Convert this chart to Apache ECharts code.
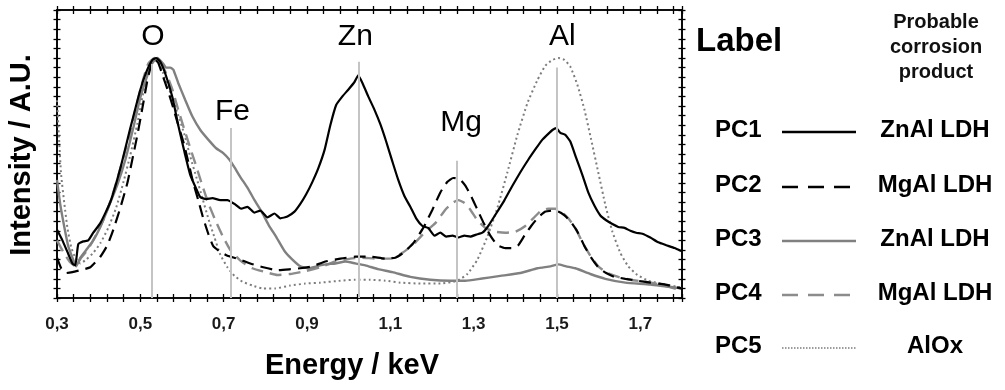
<!DOCTYPE html>
<html>
<head>
<meta charset="utf-8">
<script src="https://cdn.jsdelivr.net/npm/echarts@6/dist/echarts.min.js"></script>
<style>
  html, body { margin: 0; padding: 0; background: #fff; }
  #chart { width: 1005px; height: 390px; }
</style>
</head>
<body>
<div id="chart"></div>
<script>
// EDS spectra of principal components, [energy keV, intensity a.u.]
const pc1 = [[0.300,7.1],[0.313,6.0],[0.325,4.8],[0.337,3.6],[0.344,3.4],[0.351,5.6],[0.363,5.9],[0.375,6.0],[0.387,6.8],[0.404,7.8],[0.428,10.0],[0.452,13.5],[0.476,17.7],[0.500,21.7],[0.514,23.5],[0.529,24.8],[0.538,25.0],[0.548,24.6],[0.562,23.1],[0.577,20.9],[0.591,18.0],[0.606,15.2],[0.620,12.8],[0.635,11.3],[0.644,10.5],[0.658,10.3],[0.673,10.4],[0.692,10.2],[0.709,10.2],[0.726,9.8],[0.742,9.3],[0.757,9.5],[0.774,8.9],[0.788,9.1],[0.805,8.4],[0.822,8.8],[0.836,8.3],[0.853,8.5],[0.870,9.0],[0.884,9.8],[0.898,10.8],[0.913,12.1],[0.927,13.5],[0.942,15.4],[0.956,18.0],[0.970,20.1],[0.985,21.0],[0.999,21.7],[1.014,22.5],[1.023,23.2],[1.033,22.4],[1.047,21.0],[1.062,19.6],[1.076,18.1],[1.090,16.3],[1.105,14.2],[1.119,12.3],[1.134,10.6],[1.148,9.5],[1.162,8.3],[1.177,7.5],[1.191,7.3],[1.206,6.5],[1.220,6.8],[1.234,6.4],[1.249,6.5],[1.263,6.3],[1.278,6.5],[1.292,6.4],[1.306,6.6],[1.321,6.8],[1.335,7.5],[1.354,8.8],[1.374,10.2],[1.393,11.7],[1.412,13.1],[1.431,14.4],[1.450,15.6],[1.465,16.5],[1.479,17.1],[1.489,17.5],[1.498,17.7],[1.508,17.2],[1.520,17.0],[1.532,16.3],[1.546,14.6],[1.561,12.8],[1.575,11.0],[1.590,9.6],[1.604,8.6],[1.618,8.1],[1.633,7.7],[1.647,7.4],[1.662,7.3],[1.676,7.0],[1.690,6.8],[1.705,6.7],[1.724,6.3],[1.743,5.8],[1.762,5.5],[1.782,5.2],[1.798,4.9]];

const pc2 = [[0.300,4.2],[0.310,3.1],[0.322,2.6],[0.337,2.7],[0.356,2.9],[0.380,3.2],[0.404,4.3],[0.421,5.5],[0.435,7.1],[0.452,9.4],[0.469,12.0],[0.483,14.9],[0.493,17.0],[0.505,19.8],[0.517,22.7],[0.527,24.4],[0.534,24.9],[0.543,24.5],[0.555,23.0],[0.567,21.5],[0.579,19.8],[0.591,18.0],[0.603,16.3],[0.615,14.2],[0.627,12.0],[0.639,10.2],[0.651,8.3],[0.663,6.7],[0.675,5.4],[0.692,4.8],[0.709,4.4],[0.733,4.1],[0.764,3.6],[0.795,3.2],[0.829,2.9],[0.860,3.0],[0.884,3.1],[0.913,3.3],[0.944,3.8],[0.980,4.1],[1.016,4.3],[1.052,4.3],[1.088,4.1],[1.112,4.2],[1.131,4.7],[1.155,5.7],[1.179,7.3],[1.201,9.2],[1.220,11.0],[1.237,12.1],[1.251,12.5],[1.266,12.4],[1.280,11.7],[1.294,10.6],[1.309,9.2],[1.323,7.9],[1.340,6.5],[1.357,5.5],[1.376,5.2],[1.393,5.2],[1.407,5.5],[1.422,6.5],[1.438,7.5],[1.455,8.4],[1.472,9.0],[1.489,9.1],[1.503,9.0],[1.518,8.6],[1.532,8.0],[1.549,6.9],[1.566,5.4],[1.582,4.2],[1.599,3.2],[1.618,2.6],[1.638,2.2],[1.664,2.0],[1.693,1.8],[1.724,1.6],[1.760,1.4],[1.798,1.0]];

const pc3 = [[0.300,12.3],[0.308,9.7],[0.318,7.3],[0.327,5.4],[0.337,4.2],[0.346,3.3],[0.356,4.2],[0.370,5.0],[0.387,6.0],[0.404,7.4],[0.423,9.4],[0.445,11.8],[0.464,14.4],[0.483,17.7],[0.500,20.9],[0.517,23.2],[0.529,24.5],[0.541,25.0],[0.553,24.5],[0.562,24.0],[0.572,24.0],[0.579,23.8],[0.591,22.4],[0.608,20.6],[0.625,18.9],[0.644,17.5],[0.663,16.5],[0.682,15.6],[0.699,15.1],[0.714,14.4],[0.726,13.6],[0.740,12.6],[0.757,11.5],[0.774,10.2],[0.791,9.0],[0.808,7.6],[0.827,6.3],[0.846,4.9],[0.865,4.0],[0.884,3.3],[0.904,3.1],[0.923,3.3],[0.944,3.5],[0.968,3.6],[0.992,3.8],[1.016,3.6],[1.040,3.4],[1.071,3.0],[1.105,2.7],[1.148,2.2],[1.196,1.9],[1.244,1.8],[1.280,1.8],[1.316,2.0],[1.364,2.3],[1.412,2.6],[1.453,3.1],[1.484,3.3],[1.503,3.5],[1.522,3.3],[1.544,3.1],[1.580,2.5],[1.616,2.0],[1.664,1.6],[1.724,1.4],[1.798,1.0]];

const pc4 = [[0.300,6.0],[0.315,4.8],[0.330,3.8],[0.344,3.3],[0.358,4.2],[0.375,5.1],[0.394,6.6],[0.414,8.4],[0.433,10.7],[0.452,13.5],[0.471,16.5],[0.488,19.6],[0.505,22.5],[0.519,24.4],[0.534,25.0],[0.548,24.6],[0.562,23.4],[0.577,21.7],[0.591,19.6],[0.606,17.5],[0.620,15.6],[0.635,13.6],[0.649,11.7],[0.663,9.9],[0.680,8.1],[0.697,6.5],[0.716,5.0],[0.740,3.9],[0.769,3.1],[0.800,2.7],[0.829,2.4],[0.860,2.5],[0.896,2.8],[0.932,3.2],[0.968,3.8],[1.004,4.1],[1.033,4.2],[1.064,4.1],[1.100,4.1],[1.129,4.7],[1.158,5.7],[1.184,6.9],[1.208,7.8],[1.232,9.2],[1.249,9.9],[1.263,10.2],[1.278,9.9],[1.292,9.2],[1.309,8.1],[1.328,7.3],[1.352,6.9],[1.376,6.8],[1.400,6.9],[1.424,7.5],[1.443,8.3],[1.462,9.1],[1.479,9.3],[1.496,9.3],[1.513,8.9],[1.527,8.3],[1.544,7.3],[1.561,5.8],[1.580,4.4],[1.599,3.3],[1.621,2.6],[1.647,2.2],[1.676,1.9],[1.712,1.7],[1.748,1.4],[1.798,0.8]];

const pc5 = [[0.300,20.6],[0.305,16.5],[0.310,12.8],[0.318,9.7],[0.325,7.3],[0.334,5.3],[0.344,4.2],[0.356,3.6],[0.370,4.0],[0.387,4.7],[0.404,5.7],[0.423,7.3],[0.442,9.4],[0.459,12.0],[0.476,14.9],[0.493,18.2],[0.507,21.4],[0.519,23.8],[0.531,24.9],[0.543,24.6],[0.555,23.4],[0.572,21.4],[0.589,19.3],[0.606,17.0],[0.620,14.7],[0.635,12.5],[0.649,10.4],[0.663,8.3],[0.678,6.3],[0.692,4.5],[0.709,3.2],[0.726,2.3],[0.745,1.7],[0.769,1.3],[0.793,1.0],[0.824,1.0],[0.860,1.3],[0.896,1.5],[0.932,1.6],[0.980,1.8],[1.016,1.9],[1.052,1.9],[1.088,1.8],[1.124,1.6],[1.172,1.5],[1.220,1.5],[1.261,1.8],[1.285,2.5],[1.309,4.0],[1.333,6.4],[1.357,9.4],[1.381,13.1],[1.405,17.0],[1.429,20.3],[1.453,22.7],[1.472,24.2],[1.489,24.8],[1.503,25.0],[1.518,24.8],[1.532,24.1],[1.549,22.2],[1.566,19.6],[1.582,16.5],[1.599,13.1],[1.616,9.7],[1.633,6.9],[1.652,4.7],[1.671,3.3],[1.693,2.4],[1.719,1.8],[1.748,1.5],[1.798,1.1]];

// Characteristic X-ray lines: symbol, energy (keV), top of the marker line, label height
const elementNames = ['O', 'Fe', 'Zn', 'Mg', 'Al'];
const elementEnergies = [0.528, 0.716, 1.023, 1.260, 1.500];
const elementLineTops = [24.4, 17.7, 24.6, 14.3, 24.0];
const elementLabelPos = [[0.530, 27.2], [0.721, 19.4], [1.016, 27.2], [1.270, 18.3], [1.513, 27.2]];

// Legend rows
const componentNames = ['PC1', 'PC2', 'PC3', 'PC4', 'PC5'];
const productNames = ['ZnAl LDH', 'MgAl LDH', 'ZnAl LDH', 'MgAl LDH', 'AlOx'];

const xTickLabels = ['0,3', '0,5', '0,7', '0,9', '1,1', '1,3', '1,5', '1,7'];

const lineStyles = [
  { color: '#000000', width: 2.2, type: 'solid' },
  { color: '#000000', width: 2.2, type: [12, 7] },
  { color: '#808080', width: 2.4, type: 'solid' },
  { color: '#8c8c8c', width: 2.4, type: [12, 7] },
  { color: '#7c7c7c', width: 2, type: [2, 3] }
];
const seriesData = [pc1, pc2, pc3, pc4, pc5];

const FONT = 'Liberation Sans, Arial, sans-serif';
const X_MIN = 0.3, X_MAX = 1.8, Y_MIN = 0, Y_MAX = 30;

const chart = echarts.init(document.getElementById('chart'), null, { renderer: 'canvas' });

function xAxisDef(position, inside, withLabels) {
  return {
    type: 'value', position: position, min: X_MIN, max: X_MAX, interval: 0.04,
    axisLine: { show: true, onZero: false, lineStyle: { color: '#000', width: 1.6 } },
    axisTick: { show: true, inside: inside, length: 4, lineStyle: { color: '#000', width: 1.3 } },
    splitLine: { show: false },
    axisLabel: withLabels ? {
      show: true, margin: 18, color: '#1a1a1a', fontFamily: FONT, fontWeight: 'bold', fontSize: 17,
      formatter: function (v) {
        const k = (v - X_MIN) / 0.2;
        const r = Math.round(k);
        if (Math.abs(k - r) < 1e-6 && r >= 0 && r < xTickLabels.length) return xTickLabels[r];
        return '';
      }
    } : { show: false }
  };
}
function yAxisDef(position, inside) {
  return {
    type: 'value', position: position, min: Y_MIN, max: Y_MAX, interval: 1,
    axisLine: { show: true, onZero: false, lineStyle: { color: '#000', width: 1.6 } },
    axisTick: { show: true, inside: inside, length: 3.5, lineStyle: { color: '#000', width: 1.3 } },
    splitLine: { show: false },
    axisLabel: { show: false }
  };
}

const curveSeries = seriesData.map(function (d, i) {
  return {
    name: componentNames[i], type: 'line', data: d, showSymbol: false, smooth: 0.15,
    xAxisIndex: 0, yAxisIndex: 0, z: 3 + (4 - i) * 0.1,
    lineStyle: { color: lineStyles[i].color, width: lineStyles[i].width, type: lineStyles[i].type },
    silent: true, animation: false
  };
});

const elementSeries = {
  name: 'elements', type: 'scatter', xAxisIndex: 0, yAxisIndex: 0, symbolSize: 1,
  itemStyle: { opacity: 0 },
  data: elementLabelPos.map(function (p, i) { return { value: p, name: elementNames[i] }; }),
  label: {
    show: true, position: 'inside', formatter: '{b}', color: '#000', opacity: 1,
    fontFamily: FONT, fontSize: 30
  },
  markLine: {
    silent: true, symbol: 'none', animation: false,
    label: { show: false },
    lineStyle: { color: '#c4c4c4', width: 2, type: 'solid', opacity: 1 },
    data: elementEnergies.map(function (e, i) {
      return [{ coord: [e, 0] }, { coord: [e, elementLineTops[i]] }];
    })
  },
  z: 2, silent: true, animation: false
};

// Legend block drawn at the right of the plot
const rowY = [130, 185, 239, 293, 346];
const legendGraphics = [
  { type: 'text', left: 696, top: 25, style: { text: 'Label', font: 'bold 33px ' + FONT, fill: '#000' } },
  { type: 'text', x: 936, y: 10, style: { text: 'Probable\ncorrosion\nproduct', font: 'bold 20px ' + FONT, fill: '#111', align: 'center', lineHeight: 25 } },
  { type: 'text', x: 22, y: 155, rotation: Math.PI / 2, style: { text: 'Intensity / A.U.', font: 'bold 29px ' + FONT, fill: '#000', align: 'center', verticalAlign: 'middle' } },
  { type: 'text', x: 352, y: 366, style: { text: 'Energy / keV', font: 'bold 29px ' + FONT, fill: '#000', align: 'center', verticalAlign: 'middle' } }
];
componentNames.forEach(function (n, i) {
  legendGraphics.push({ type: 'text', x: 715, y: rowY[i], style: { text: n, font: 'bold 24px ' + FONT, fill: '#000', verticalAlign: 'middle' } });
  legendGraphics.push({ type: 'text', x: 935, y: rowY[i], style: { text: productNames[i], font: 'bold 24px ' + FONT, fill: '#000', align: 'center', verticalAlign: 'middle' } });
  const ls = lineStyles[i];
  legendGraphics.push({
    type: 'line', shape: { x1: 782, y1: rowY[i] + 2, x2: 856, y2: rowY[i] + 2 },
    style: { stroke: ls.color, lineWidth: i === 4 ? 1.6 : 2.6, lineDash: Array.isArray(ls.type) ? (i === 4 ? [1.5, 1.5] : [16, 10]) : null }
  });
});

chart.setOption({
  animation: false,
  backgroundColor: '#ffffff',
  grid: { left: 57, top: 10, width: 625, height: 288, containLabel: false },
  xAxis: [
    xAxisDef('bottom', false, true),
    xAxisDef('bottom', true, false),
    xAxisDef('top', false, false),
    xAxisDef('top', true, false)
  ],
  yAxis: [
    yAxisDef('left', false),
    yAxisDef('left', true),
    yAxisDef('right', false),
    yAxisDef('right', true)
  ],
  series: curveSeries.concat([elementSeries]),
  graphic: legendGraphics
});
</script>
</body>
</html>
